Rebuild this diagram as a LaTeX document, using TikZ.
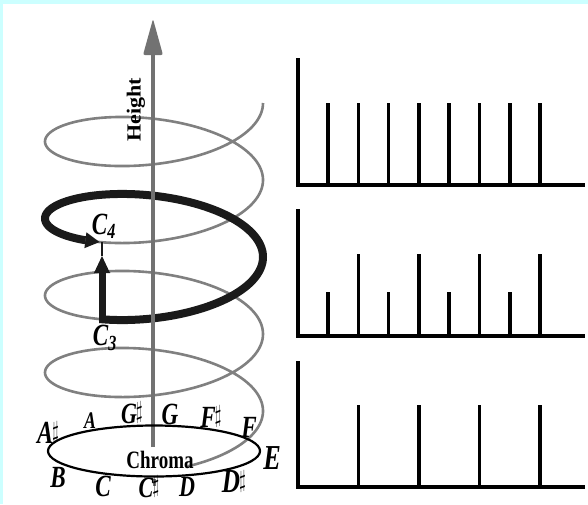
\documentclass[tikz,border=0pt]{standalone}
\usepackage{fontspec}
\usepackage{graphicx}
\setmainfont{Liberation Serif}
\usetikzlibrary{arrows.meta,calc}
\definecolor{bordercyan}{HTML}{CCFFFF}
\definecolor{helixgray}{HTML}{808080}
\definecolor{axisgray}{HTML}{727272}
\definecolor{thickblack}{HTML}{1A1A1A}
\newcommand{\notetxt}[2]{\fontsize{#1}{#1}\selectfont\scalebox{1.05}[1.4]{\bfseries\itshape #2}}
\newcommand{\shp}{\kern-1pt\smash{\raisebox{0.35ex}{\fontsize{16}{16}\selectfont$\sharp$}}}
\begin{document}
\begin{tikzpicture}[x=1pt,y=-1pt,
  helix/.style={draw=helixgray, line width=2.6pt},
  thickpath/.style={draw=thickblack, line width=8pt},
  chartline/.style={draw=black, line width=4pt, line join=miter},
  stemline/.style={draw=black, line width=3.6pt},
  lab/.style={inner sep=0pt, text=black}]
\fill[bordercyan] (0,0) rectangle (588,504);
\fill[white] (3,4) rectangle (588,504);
\useasboundingbox (0,0) rectangle (588,504);

% gray helix
\draw[helix] plot[domain=0:1512, samples=600, variable=\t]
  ({154+109*cos(\t)}, {103+\t/360*77+42*sin(\t)});

% thick black turn C3 -> C4
\draw[thickpath] plot[domain=489:840, samples=200, variable=\t]
  ({154+109*cos(\t)}, {103+\t/360*77+42*sin(\t)});
\coordinate (c4tip) at ({154+109*cos(480)}, {103+480/360*77+42*sin(480)});
\coordinate (c4base) at ({154+109*cos(489)}, {103+489/360*77+42*sin(489)});
\fill[thickblack] (c4tip) -- ($(c4base)!8pt!90:(c4tip)$) -- ($(c4base)!8pt!-90:(c4tip)$) -- cycle;

% vertical octave arrow
\coordinate (c3) at (102,323);
\coordinate (c4) at (102,242);
\coordinate (vtip) at (102,256);
\draw[thickblack, line width=7pt] (c3) -- (102,271);
\fill[thickblack] (vtip) -- (94,273) -- (110,273) -- cycle;
\draw[thickblack, line width=1.6pt] (vtip) -- (c4);

% height axis
\coordinate (axbot) at (153,447);
\coordinate (axtop) at (153,50);
\draw[axisgray, line width=4pt] (axbot) -- (axtop);
\fill[axisgray, rounded corners=2pt] (153,19) -- (163,55) -- (143,55) -- cycle;
\draw[axisgray, line width=3pt] (154,479) -- (154,486);

\node[lab, rotate=90] (height) at (136,110)
  {\fontsize{20}{20}\selectfont\scalebox{1.1}[1]{\bfseries Height}};

% chroma circle
\draw[black, line width=2.2pt] (154,451) ellipse [x radius=106pt, y radius=25.5pt];
\node[lab] (chroma) at (160,460)
  {\fontsize{20}{20}\selectfont\scalebox{0.95}[1.25]{\bfseries Chroma}};

% note labels
\node[lab] (nAs) at (48,433) {\notetxt{23}{A\shp}};
\node[lab] (nA)  at (90,421) {\notetxt{17}{A}};
\node[lab] (nGs) at (132,414) {\notetxt{21}{G\shp}};
\node[lab] (nG)  at (170,414) {\notetxt{22}{G}};
\node[lab] (nFs) at (211,417) {\notetxt{22}{F\shp}};
\node[lab] (nF)  at (249,427) {\notetxt{22}{F}};
\node[lab] (nE)  at (272,458) {\notetxt{25}{E}};
\node[lab] (nDs) at (234,482) {\notetxt{24}{D\shp}};
\node[lab] (nD)  at (187,487) {\notetxt{21}{D}};
\node[lab] (nCs) at (149,488) {\notetxt{21}{C\shp}};
\node[lab] (nC)  at (103,486) {\notetxt{22}{C}};
\node[lab] (nB)  at (58,477) {\notetxt{22}{B}};

\node[lab] (lc4) at (104,226) {\notetxt{22}{C\textsubscript{4}}};
\node[lab] (lc3) at (105,338) {\notetxt{22}{C\textsubscript{3}}};

% spectra
\draw[chartline] (298,58) -- (298,185) -- (585,185);
\foreach \k in {0,...,7} \draw[stemline] ({328+30.3*\k},185) -- ({328+30.3*\k},103);

\draw[chartline] (298,209) -- (298,336) -- (585,336);
\foreach \k in {0,2,4,6} \draw[stemline] ({328+30.3*\k},336) -- ({328+30.3*\k},292);
\foreach \k in {1,3,5,7} \draw[stemline] ({328+30.3*\k},336) -- ({328+30.3*\k},254);

\draw[chartline] (298,361) -- (298,487) -- (585,487);
\foreach \k in {1,3,5,7} \draw[stemline] ({328+30.3*\k},487) -- ({328+30.3*\k},405);
\end{tikzpicture}
\end{document}
